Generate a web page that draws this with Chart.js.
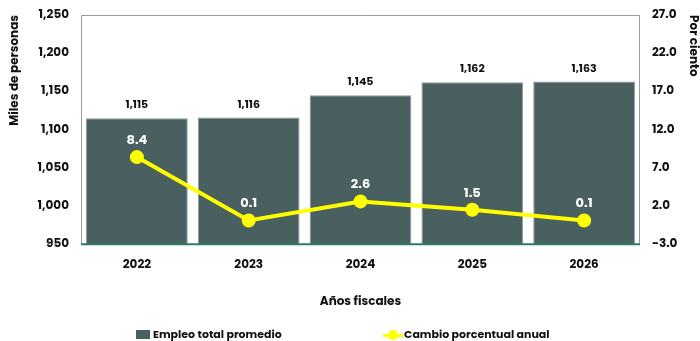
<!DOCTYPE html>
<html>
<head>
<meta charset="utf-8">
<script src="https://cdn.jsdelivr.net/npm/chart.js@4"></script>
<style>
  html, body { margin: 0; padding: 0; background: #fff; }
  #wrap { position: relative; width: 700px; height: 341px; }
  #legend {
    position: absolute; left: 0; top: 326px; width: 700px; height: 15px;
    font: bold 11px Poppins, Inter, sans-serif; color: #111;
  }
  .item { position: absolute; top: 0; display: flex; align-items: center; white-space: nowrap; }
  .box { width: 14px; height: 9px; background: #4a5f60; margin-right: 3px; }
  .dot { position: relative; width: 20px; height: 10px; margin-right: 1px; }
  .dot:before { content: ''; position: absolute; left: 0; right: 0; top: 4px; height: 3px; background: #ffff00; }
  .dot:after { content: ''; position: absolute; left: 5px; top: 0; width: 10px; height: 10px; border-radius: 5px; background: #ffff00; }
</style>
</head>
<body>
<div id="wrap">
  <canvas id="chart" width="700" height="341"></canvas>
  <div id="legend">
    <div class="item" style="left:136px"><span class="box"></span>Empleo total promedio</div>
    <div class="item" style="left:383px"><span class="dot"></span>Cambio porcentual anual</div>
  </div>
</div>
<script>
'use strict'

const years = ['2022', '2023', '2024', '2025', '2026'];
const empleo = [1115, 1116, 1145, 1162, 1163];
const cambio = [8.4, 0.1, 2.6, 1.5, 0.1];

const fontFam = 'Poppins, Inter, sans-serif';

// caja gris alrededor del área y línea verde en la base
const frame = {
  id: 'frame',
  beforeDatasetsDraw(chart) {
    const { ctx, chartArea: a } = chart;
    ctx.save();
    ctx.strokeStyle = '#9a9a9a';
    ctx.lineWidth = 1;
    ctx.beginPath();
    ctx.moveTo(a.left + 0.5, a.bottom);
    ctx.lineTo(a.left + 0.5, a.top + 0.5);
    ctx.lineTo(a.right - 0.5, a.top + 0.5);
    ctx.lineTo(a.right - 0.5, a.bottom);
    ctx.stroke();
    ctx.restore();
  },
  afterDatasetsDraw(chart) {
    const { ctx, chartArea: a } = chart;
    ctx.save();
    ctx.strokeStyle = '#2b7a6b';
    ctx.lineWidth = 2;
    ctx.beginPath();
    ctx.moveTo(a.left, a.bottom);
    ctx.lineTo(a.right, a.bottom);
    ctx.stroke();
    ctx.restore();
  }
};

// etiquetas de valores sobre barras y puntos
const valueLabels = {
  id: 'valueLabels',
  afterDatasetsDraw(chart) {
    const ctx = chart.ctx;
    ctx.save();
    ctx.textAlign = 'center';
    ctx.textBaseline = 'bottom';
    chart.getDatasetMeta(1).data.forEach((bar, i) => {
      ctx.font = 'bold 11px ' + fontFam;
      ctx.fillStyle = '#111';
      ctx.fillText(empleo[i].toLocaleString('en-US'), bar.x, bar.y - 7);
    });
    chart.getDatasetMeta(0).data.forEach((pt, i) => {
      ctx.font = 'bold 13px ' + fontFam;
      ctx.fillStyle = '#fff';
      ctx.fillText(cambio[i].toFixed(1), pt.x, pt.y - 10);
    });
    ctx.restore();
  }
};

const tickFont = { family: fontFam, size: 12, weight: 'bold' };

// ancho fijo y margen superior de los ejes verticales
function fitY(width) {
  return s => {
    s.width = width;
    s.paddingTop = 15;
    s.paddingBottom = 0;
  };
}

new Chart(document.getElementById('chart'), {
  data: {
    labels: years,
    datasets: [{
      type: 'line',
      label: 'Cambio porcentual anual',
      data: cambio,
      yAxisID: 'y2',
      borderColor: '#ffff00',
      backgroundColor: '#ffff00',
      borderWidth: 4,
      pointRadius: 5,
      pointHoverRadius: 5,
      tension: 0
    }, {
      type: 'bar',
      label: 'Empleo total promedio',
      data: empleo,
      yAxisID: 'y',
      backgroundColor: '#4a5f60',
      borderColor: '#8a9a9a',
      borderWidth: { top: 1, left: 1, right: 1, bottom: 0 },
      barPercentage: 0.91,
      categoryPercentage: 1
    }]
  },
  options: {
    responsive: false,
    animation: false,
    layout: { padding: { left: 2, right: 0, top: 0, bottom: 32 } },
    plugins: {
      legend: { display: false },
      tooltip: { enabled: false }
    },
    scales: {
      x: {
        offset: true,
        grid: { display: false, drawTicks: false },
        border: { display: false },
        ticks: { color: '#111', font: tickFont, padding: 14 },
        title: {
          display: true, text: 'Años fiscales', color: '#111',
          font: tickFont,
          padding: { top: 8, bottom: 0 }
        }
      },
      y: {
        position: 'left',
        min: 950, max: 1250,
        grid: { display: false, drawTicks: false },
        border: { display: false },
        afterFit: fitY(79),
        ticks: {
          stepSize: 50, color: '#111', padding: 12, font: tickFont,
          callback: v => v.toLocaleString('en-US')
        },
        title: {
          display: true, text: 'Miles de personas', color: '#111',
          font: tickFont, align: 'end',
          padding: { top: 6, bottom: 0 }
        }
      },
      y2: {
        position: 'right',
        min: -3, max: 27,
        grid: { display: false, drawTicks: false },
        border: { display: false },
        afterFit: fitY(60),
        ticks: {
          stepSize: 5, color: '#111', padding: 12, font: tickFont,
          callback: v => v.toFixed(1)
        },
        title: {
          display: true, text: 'Por ciento', color: '#111',
          font: tickFont, align: 'end',
          padding: { top: 0, bottom: 0 }
        }
      }
    }
  },
  plugins: [frame, valueLabels]
});
</script>
</body>
</html>
